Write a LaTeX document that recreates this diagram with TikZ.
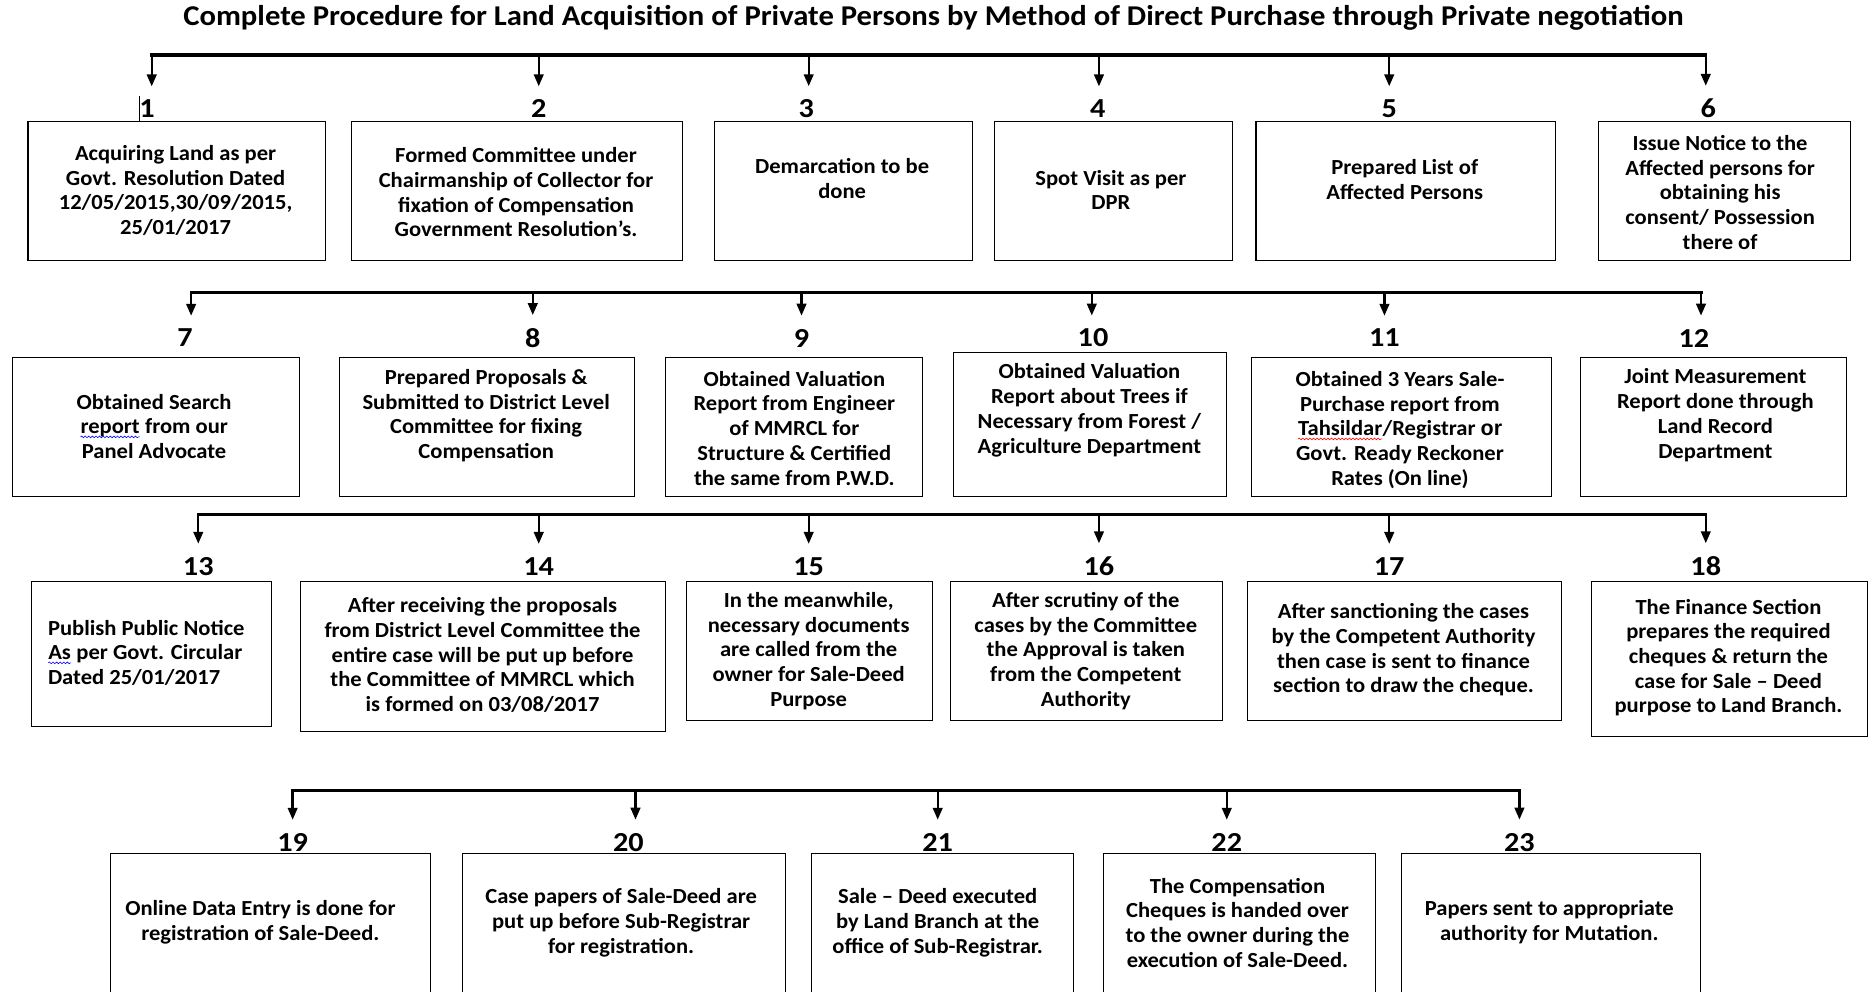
\documentclass[tikz,border=0pt]{standalone}
\usepackage{fontspec}
\setmainfont{Carlito}
\newfontfamily\boxfont{Carlito}[FakeStretch=1.05]
\newfontfamily\ttlfont{Carlito}[FakeStretch=1.07]
\newfontfamily\numfont{Carlito}[FakeStretch=1.1]
\newfontfamily\arialf{Liberation Sans}
\usetikzlibrary{arrows.meta,decorations.pathmorphing}
\newcommand\wavyul[2]{\tikz[baseline=(wv.base)]{\node[inner sep=0pt,outer sep=0pt] (wv) {#2}; \draw[#1, line width=0.5pt, decorate, decoration={snake, amplitude=0.7pt, segment length=3pt}] ([yshift=-2.5pt]wv.base west) -- ([yshift=-2.5pt]wv.base east);}}
\begin{document}
\begin{tikzpicture}[x=1pt,y=-1pt,
  box/.style={draw=black, line width=0.9pt, inner sep=0pt, anchor=north west},
  txt/.style={align=center, font=\boxfont\fontsize{18}{20.7}\selectfont\bfseries, inner sep=0pt},
  txtl/.style={align=left, font=\boxfont\fontsize{18}{20.7}\selectfont\bfseries, inner sep=0pt, anchor=west},
  num/.style={font=\numfont\fontsize{23}{26}\selectfont\bfseries, inner sep=0pt},
  ttl/.style={font=\ttlfont\fontsize{24}{28}\selectfont\bfseries, inner sep=0pt},
  bus/.style={line width=2.6pt, line cap=rect},
  arr/.style={line width=2pt, -{Triangle[length=10pt,width=8pt]}, shorten >=11pt},
]
\fill[white] (0,0) rectangle (1568,830);
\clip (0,0) rectangle (1568,830);

% title
\node[ttl] (title) at (781.5,15) {Complete Procedure for Land Acquisition of Private Persons by Method of Direct Purchase through Private negotiation};

% ---------------- Row 1 ----------------
\node[box, minimum width=249pt, minimum height=117pt] (b1) at (23,101) {};
\node[box, minimum width=277pt, minimum height=117pt] (b2) at (294,101) {};
\node[box, minimum width=216pt, minimum height=117pt] (b3) at (598,101) {};
\node[box, minimum width=199pt, minimum height=117pt] (b4) at (832,101) {};
\node[box, minimum width=251pt, minimum height=117pt] (b5) at (1051,101) {};
\node[box, minimum width=211pt, minimum height=117pt] (b6) at (1338,101) {};

\node[txt] (t1) at (147,159.5) {Acquiring Land as per\\Govt. Resolution Dated\\12/05/2015,30/09/2015,\\25/01/2017};
\node[txt] (t2) at (432,161) {Formed Committee under\\Chairmanship of Collector for\\fixation of Compensation\\Government Resolution’s.};
\node[txt] (t3) at (705,149.5) {Demarcation to be\\done};
\node[txt] (t4) at (930,159) {Spot Visit as per\\DPR};
\node[txt] (t5) at (1176,150.5) {Prepared List of\\Affected Persons};
\node[txt] (t6) at (1440,161) {Issue Notice to the\\Affected persons for\\obtaining his\\consent/ Possession\\there of};

\node[num] (n1) at (123,91) {1};
\node[num] (n2) at (451,91) {2};
\node[num] (n3) at (675,91) {3};
\node[num] (n4) at (919,91) {4};
\node[num] (n5) at (1163,91) {5};
\node[num] (n6) at (1430,91) {6};

\coordinate (j1) at (127,46);
\coordinate (j2) at (451,46);
\coordinate (j3) at (677,46);
\coordinate (j4) at (920,46);
\coordinate (j5) at (1163,46);
\coordinate (j6) at (1428,46);
\draw[bus] (j1) -- (j6);
\foreach \i in {1,...,6}{\draw[arr] (j\i) -- (j\i |- n\i.north);}
\coordinate (c1) at (117,80);
\draw[line width=0.7pt] (c1) -- (c1 |- b1.north);

% ---------------- Row 2 ----------------
\node[box, minimum width=240pt, minimum height=116pt] (b7) at (10,299) {};
\node[box, minimum width=247pt, minimum height=116pt] (b8) at (284,299) {};
\node[box, minimum width=215pt, minimum height=116pt] (b9) at (557,299) {};
\node[box, minimum width=228pt, minimum height=120pt] (b10) at (798,295) {};
\node[box, minimum width=251pt, minimum height=116pt] (b11) at (1047,299) {};
\node[box, minimum width=222pt, minimum height=116pt] (b12) at (1323,299) {};

\node[txt] (t7) at (129,357) {Obtained Search\\\wavyul{blue}{report} from our\\Panel Advocate};
\node[txt] (t8) at (407,348) {Prepared Proposals \&\\Submitted to District Level\\Committee for fixing\\Compensation};
\node[txt] (t9) at (665,358.5) {Obtained Valuation\\Report from Engineer\\of MMRCL for\\Structure \& Certified\\the same from P.W.D.};
\node[txt] (t10) at (912,343.5) {Obtained Valuation\\Report about Trees if\\Necessary from Forest /\\Agriculture Department};
\node[txt] (t11) at (1172,360) {Obtained 3 Years Sale-\\Purchase report from\\\wavyul{red}{Tahsildar}/Registrar {\arialf\bfseries or}\\Govt. Ready Reckoner\\Rates (On line)};
\node[txt] (t12) at (1436,347.5) {Joint Measurement\\Report done through\\Land Record\\Department};

\node[num] (n7) at (155,283) {7};
\node[num] (n8) at (446,283) {8};
\node[num] (n9) at (671,283) {9};
\node[num] (n10) at (915,283) {10};
\node[num] (n11) at (1159,283) {11};
\node[num] (n12) at (1418,283) {12};

\coordinate (j7) at (160,245);
\coordinate (j8) at (446,245);
\coordinate (j9) at (671,245);
\coordinate (j10) at (914,245);
\coordinate (j11) at (1159,245);
\coordinate (j12) at (1424,245);
\draw[bus] (j7) -- (j12);
\foreach \i in {7,...,12}{\draw[arr] (j\i) -- (j\i |- n\i.north);}

% ---------------- Row 3 ----------------
\node[box, minimum width=201pt, minimum height=122pt] (b13) at (26,486) {};
\node[box, minimum width=306pt, minimum height=126pt] (b14) at (251,486) {};
\node[box, minimum width=206pt, minimum height=117pt] (b15) at (574,486) {};
\node[box, minimum width=228pt, minimum height=117pt] (b16) at (795,486) {};
\node[box, minimum width=263pt, minimum height=117pt] (b17) at (1044,486) {};
\node[box, minimum width=231pt, minimum height=130pt] (b18) at (1332,486) {};

\node[txtl] (t13) at (40,546.5) {Publish Public Notice\\\wavyul{blue}{As} per Govt. Circular\\Dated 25/01/2017};
\node[txt] (t14) at (404,548.5) {After receiving the proposals\\from District Level Committee the\\entire case will be put up before\\the Committee of MMRCL which\\is formed on 03/08/2017};
\node[txt] (t15) at (677,545) {In the meanwhile,\\necessary documents\\are called from the\\owner for Sale-Deed\\Purpose};
\node[txt] (t16) at (909,545) {After scrutiny of the\\cases by the Committee\\the Approval is taken\\from the Competent\\Authority};
\node[txt] (t17) at (1175,544) {After sanctioning the cases\\by the Competent Authority\\then case is sent to finance\\section to draw the cheque.};
\node[txt] (t18) at (1447,550.5) {The Finance Section\\prepares the required\\cheques \& return the\\case for Sale – Deed\\purpose to Land Branch.};

\node[num] (n13) at (166,474) {13};
\node[num] (n14) at (451,474) {14};
\node[num] (n15) at (677,474) {15};
\node[num] (n16) at (920,474) {16};
\node[num] (n17) at (1163,474) {17};
\node[num] (n18) at (1428,474) {18};

\coordinate (j13) at (166,431);
\coordinate (j14) at (451,431);
\coordinate (j15) at (677,431);
\coordinate (j16) at (920,431);
\coordinate (j17) at (1163,431);
\coordinate (j18) at (1428,431);
\draw[bus] (j13) -- (j18);
\foreach \i in {13,...,18}{\draw[arr] (j\i) -- (j\i |- n\i.north);}

% ---------------- Row 4 ----------------
\node[box, minimum width=268pt, minimum height=130pt] (b19) at (92,714) {};
\node[box, minimum width=270pt, minimum height=130pt] (b20) at (387,714) {};
\node[box, minimum width=219pt, minimum height=130pt] (b21) at (679,714) {};
\node[box, minimum width=228pt, minimum height=130pt] (b22) at (923,714) {};
\node[box, minimum width=250pt, minimum height=130pt] (b23) at (1173,714) {};

\node[txt] (t19) at (218,772) {Online Data Entry is done for\\registration of Sale-Deed.};
\node[txt] (t20) at (520,772.5) {Case papers of Sale-Deed are\\put up before Sub-Registrar\\for registration.};
\node[txt] (t21) at (785,772.5) {Sale – Deed executed\\by Land Branch at the\\office of Sub-Registrar.};
\node[txt] (t22) at (1036,772.5) {The Compensation\\Cheques is handed over\\to the owner during the\\execution of Sale-Deed.};
\node[txt] (t23) at (1297,772) {Papers sent to appropriate\\authority for Mutation.};

\node[num] (n19) at (245,705) {19};
\node[num] (n20) at (526,705) {20};
\node[num] (n21) at (785,705) {21};
\node[num] (n22) at (1027,705) {22};
\node[num] (n23) at (1272,705) {23};

\coordinate (j19) at (245,662);
\coordinate (j20) at (532,662);
\coordinate (j21) at (785,662);
\coordinate (j22) at (1027,662);
\coordinate (j23) at (1272,662);
\draw[bus] (j19) -- (j23);
\foreach \i in {19,...,23}{\draw[arr] (j\i) -- (j\i |- n\i.north);}
\end{tikzpicture}
\end{document}
